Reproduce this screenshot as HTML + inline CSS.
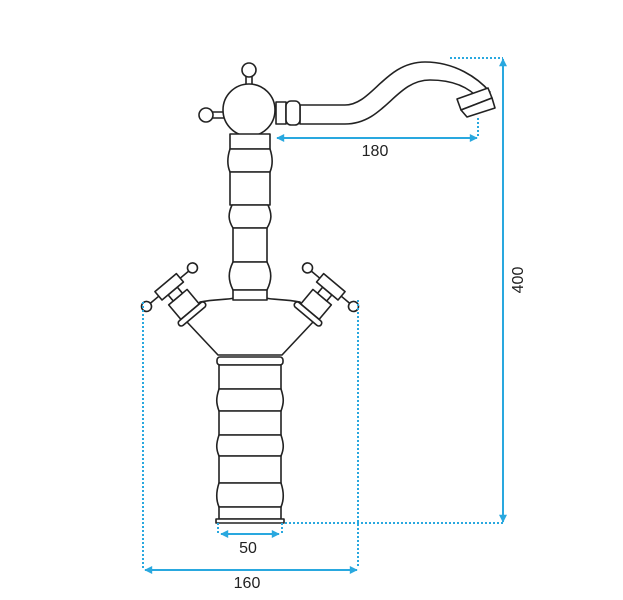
<!DOCTYPE html>
<html><head><style>html,body{margin:0;padding:0;background:#fff}svg{display:block}</style></head><body>
<svg width="623" height="600" viewBox="0 0 623 600" xmlns="http://www.w3.org/2000/svg">
<defs>
<marker id="a" viewBox="0 0 10 10" refX="9" refY="5" markerWidth="10" markerHeight="8" orient="auto-start-reverse" markerUnits="userSpaceOnUse"><path d="M0,0 L10,5 L0,10 z" fill="#29a8df"/></marker>
</defs>
<g fill="#fff" stroke="#222" stroke-width="1.6" stroke-linejoin="round">
<!-- spout -->
<path d="M300,105 L345,105 C372,105 385,62 425,62 C455,62 478,78 490,92 L480,100 C470,88 455,80 430,80 C395,80 385,124 345,124 L300,124 Z"/>
<path d="M457,99 L488,88 L492,98 L461,110 Z"/>
<path d="M461,110 L492,98 L495,108 L467,117 Z"/>
<rect x="276" y="102" width="10" height="22"/>
<rect x="286" y="101" width="14" height="24" rx="5"/>
<!-- top knobs -->
<rect x="246" y="76" width="6" height="12"/>
<circle cx="249" cy="70" r="7"/>
<rect x="212" y="112" width="14" height="6"/>
<circle cx="206" cy="115" r="7"/>
<circle cx="249" cy="110" r="26"/>
<!-- column -->
<rect x="230" y="134" width="40" height="15"/>
<path d="M230,149 C227,158 227,165 230,172 L270,172 C273,165 273,158 270,149 Z"/>
<rect x="230" y="172" width="40" height="33"/>
<path d="M232,205 C228,214 228,220 233,228 L267,228 C272,220 272,214 268,205 Z"/>
<rect x="233" y="228" width="34" height="34"/>
<path d="M233,262 C228,272 228,280 233,290 L267,290 C272,280 272,272 267,262 Z"/>
<!-- body -->
<path d="M187,322 L218,355 L282,355 L313,322 L300,302 C285,299 275,300 265,298 L235,298 C225,300 215,299 200,302 Z"/>
<rect x="233" y="290" width="34" height="10"/>
<!-- left valve -->
<g transform="translate(192,314) rotate(-40)">
<rect x="-12" y="-22" width="24" height="19"/>
<rect x="-17" y="-3" width="34" height="6" rx="3"/>
<rect x="-6" y="-30" width="12" height="8"/>
<rect x="-14" y="-41" width="28" height="11"/>
<line x1="14" y1="-35" x2="25" y2="-35"/><circle cx="30" cy="-35" r="5"/>
<line x1="-14" y1="-35" x2="-25" y2="-35"/><circle cx="-30" cy="-35" r="5"/>
</g>
<!-- right valve -->
<g transform="translate(308,314) rotate(40)">
<rect x="-12" y="-22" width="24" height="19"/>
<rect x="-17" y="-3" width="34" height="6" rx="3"/>
<rect x="-6" y="-30" width="12" height="8"/>
<rect x="-14" y="-41" width="28" height="11"/>
<line x1="14" y1="-35" x2="25" y2="-35"/><circle cx="30" cy="-35" r="5"/>
<line x1="-14" y1="-35" x2="-25" y2="-35"/><circle cx="-30" cy="-35" r="5"/>
</g>
<!-- lower body -->
<rect x="217" y="357" width="66" height="8" rx="3"/>
<rect x="219" y="365" width="62" height="24"/>
<path d="M219,389 C216,398 216,403 219,411 L281,411 C284,403 284,398 281,389 Z"/>
<rect x="219" y="411" width="62" height="24"/>
<path d="M219,435 C216,444 216,449 219,456 L281,456 C284,449 284,444 281,435 Z"/>
<rect x="219" y="456" width="62" height="27"/>
<path d="M219,483 C216,492 216,500 219,507 L281,507 C284,500 284,492 281,483 Z"/>
<rect x="219" y="507" width="62" height="12"/>
<rect x="216" y="519" width="68" height="4"/>
</g>
<!-- dimension lines -->
<g stroke="#29a8df" stroke-width="2" fill="none" stroke-dasharray="2,2">
<path d="M450,58 H503"/>
<path d="M478,118 V138"/>
<path d="M143,302 V570"/>
<path d="M358,300 V568"/>
<path d="M285,523 H503"/>
<path d="M218,523 V534"/>
<path d="M282,523 V534"/>
</g>
<g stroke="#29a8df" stroke-width="2" fill="none">
<line x1="277" y1="138" x2="477" y2="138" marker-start="url(#a)" marker-end="url(#a)"/>
<line x1="503" y1="59" x2="503" y2="522" marker-start="url(#a)" marker-end="url(#a)"/>
<line x1="221" y1="534" x2="279" y2="534" marker-start="url(#a)" marker-end="url(#a)"/>
<line x1="145" y1="570" x2="357" y2="570" marker-start="url(#a)" marker-end="url(#a)"/>
</g>
<g font-family="Liberation Sans, sans-serif" font-size="16" fill="#222" text-anchor="middle">
<text x="375" y="156">180</text>
<text x="248" y="553">50</text>
<text x="247" y="588">160</text>
<text x="0" y="0" transform="translate(523,280) rotate(-90)">400</text>
</g>
</svg>
</body></html>
